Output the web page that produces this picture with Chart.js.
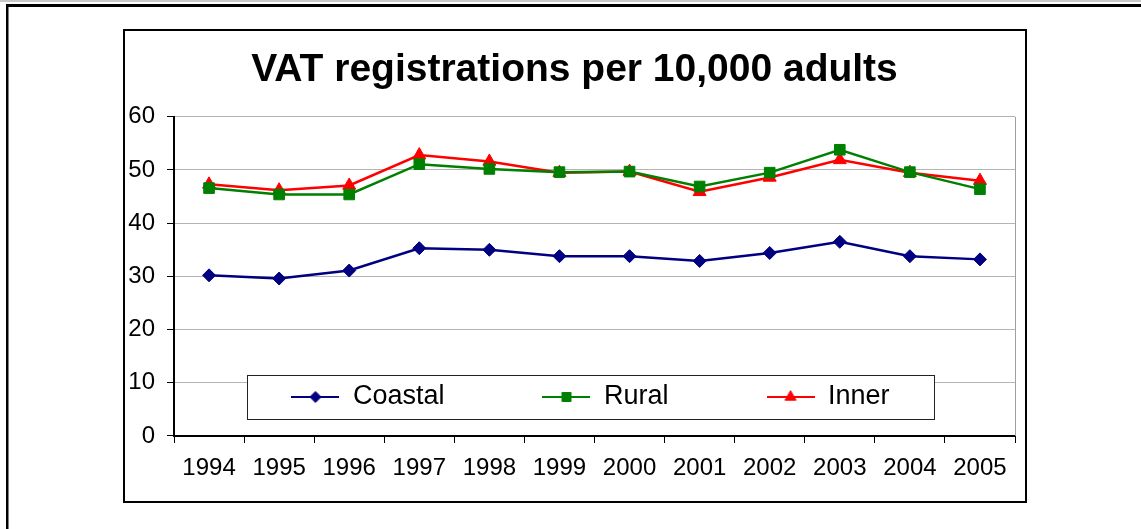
<!DOCTYPE html>
<html>
<head>
<meta charset="utf-8">
<title>VAT registrations per 10,000 adults</title>
<script src="https://cdn.jsdelivr.net/npm/chart.js@4/dist/chart.umd.min.js"></script>
<style>
  html, body { margin: 0; padding: 0; background: #fff; }
  canvas { display: block; }
</style>
</head>
<body>
<canvas id="vatChart" width="1141" height="529"></canvas>
<script>
// Years on the category axis
const years = ['1994', '1995', '1996', '1997', '1998', '1999', '2000', '2001', '2002', '2003', '2004', '2005'];

// VAT registrations per 10,000 adults, by area type
const coastal = [30.2, 29.6, 31.1, 35.3, 35.0, 33.8, 33.8, 32.9, 34.4, 36.5, 33.8, 33.2];
const rural   = [46.6, 45.4, 45.4, 51.1, 50.2, 49.6, 49.7, 46.9, 49.5, 53.8, 49.6, 46.4];
const inner   = [47.3, 46.2, 47.1, 52.8, 51.6, 49.5, 49.7, 45.9, 48.6, 51.9, 49.5, 48.0];

// Value axis ticks
const yTickValues = [0, 10, 20, 30, 40, 50, 60];

const FONT = "'Liberation Sans', Arial, Helvetica, sans-serif";
Chart.defaults.font.family = FONT;
Chart.defaults.color = '#000';

const LEGEND_FONT = 27;
const LEGEND_GAP = 98;

// Small line-plus-marker icon used as the legend symbol
function legendIcon(color, style, radius) {
  const cv = document.createElement('canvas');
  cv.width = 48;
  cv.height = 20;
  const g = cv.getContext('2d');
  g.strokeStyle = color;
  g.lineWidth = 2;
  g.beginPath();
  g.moveTo(0, 10);
  g.lineTo(48, 10);
  g.stroke();
  g.fillStyle = color;
  g.strokeStyle = color;
  g.lineWidth = 1;
  Chart.helpers.drawPoint(g, { pointStyle: style, radius: radius * 0.85, borderWidth: 1, rotation: 0 }, 24, 10);
  return cv;
}

// White legend panel sitting inside the plot area
function drawLegendPanel(chart) {
  const ca = chart.chartArea;
  const { ctx } = chart;
  const x = ca.left + 73, y = ca.bottom - 61, w = ca.right - ca.left - 154, h = 44;
  ctx.save();
  ctx.fillStyle = '#fff';
  ctx.fillRect(x, y, w, h);
  ctx.strokeStyle = '#222';
  ctx.lineWidth = 1;
  ctx.strokeRect(x + 0.5, y + 0.5, w, h);
  ctx.restore();
}

const framePlugin = {
  id: 'frames',
  beforeDraw(chart) {
    const { ctx, width, height } = chart;
    ctx.save();
    ctx.fillStyle = '#fff';
    ctx.fillRect(0, 0, width, height);
    // page strip and outer border
    ctx.fillStyle = '#c8c8c8';
    ctx.fillRect(0, 0, width, 2);
    ctx.fillStyle = '#000';
    ctx.fillRect(6, 4, width - 6, 3);
    ctx.fillRect(6, 4, 2.5, height - 4);
    // chart box
    ctx.strokeStyle = '#000';
    ctx.lineWidth = 2;
    ctx.strokeRect(124, 30, 902, 472);
    ctx.restore();
  },
  afterLayout(chart) {
    const ca = chart.chartArea;
    // centre the title over the chart box
    if (chart.titleBlock) {
      chart.titleBlock.left = 123;
      chart.titleBlock.right = 1026;
    }
    // move the legend into the lower part of the plot area
    const lg = chart.legend;
    if (lg) {
      const panelCx = (ca.left + 73 + ca.right - 81) / 2;
      const panelCy = ca.bottom - 39;
      lg.left = panelCx - 500;
      lg.right = panelCx + 500;
      lg.top = panelCy - LEGEND_FONT / 2 - LEGEND_GAP;
      lg.bottom = ca.bottom;
      lg.width = lg.right - lg.left;
      lg.height = lg.bottom - lg.top;
      if (!lg.__panel) {
        const baseDraw = lg.draw;
        lg.draw = function (area) {
          drawLegendPanel(this.chart);
          baseDraw.call(this, area);
        };
        lg.__panel = true;
      }
    }
  },
  beforeDatasetsDraw(chart) {
    // grey right-hand edge of the plot area
    const ca = chart.chartArea;
    const { ctx } = chart;
    ctx.save();
    ctx.strokeStyle = '#a0a0a0';
    ctx.lineWidth = 1;
    ctx.beginPath();
    ctx.moveTo(Math.round(ca.right) + 0.5, ca.top);
    ctx.lineTo(Math.round(ca.right) + 0.5, ca.bottom);
    ctx.stroke();
    ctx.restore();
  }
};

const seriesStyle = [
  { color: '#000080', style: 'rectRot', radius: 6.5 },
  { color: '#008000', style: 'rect', radius: 7.5 },
  { color: '#ff0000', style: 'triangle', radius: 7.5 }
];

function makeDataset(label, values, s) {
  return {
    label: label,
    data: values,
    borderColor: s.color,
    backgroundColor: s.color,
    borderWidth: 2.5,
    pointStyle: s.style,
    pointRadius: s.radius,
    pointHoverRadius: s.radius,
    pointBorderWidth: 1,
    pointBackgroundColor: s.color,
    pointBorderColor: s.color,
    tension: 0,
    fill: false
  };
}

new Chart(document.getElementById('vatChart'), {
  type: 'line',
  data: {
    labels: years,
    datasets: [
      makeDataset('Coastal', coastal, seriesStyle[0]),
      makeDataset('Rural', rural, seriesStyle[1]),
      makeDataset('Inner', inner, seriesStyle[2])
    ]
  },
  options: {
    responsive: false,
    animation: false,
    events: [],
    layout: { padding: { left: 123, right: 126, top: 29, bottom: 27 } },
    plugins: {
      title: {
        display: true,
        text: 'VAT registrations per 10,000 adults',
        color: '#000',
        font: { size: 39, weight: 'bold', family: FONT },
        padding: { top: 18, bottom: 23 }
      },
      legend: {
        display: true,
        position: 'bottom',
        align: 'center',
        maxHeight: 0.001,
        labels: {
          usePointStyle: true,
          pointStyleWidth: 48,
          padding: LEGEND_GAP,
          color: '#000',
          font: { size: LEGEND_FONT, family: FONT },
          generateLabels(chart) {
            return chart.data.datasets.map((ds, i) => ({
              text: ds.label,
              fillStyle: ds.borderColor,
              strokeStyle: ds.borderColor,
              fontColor: '#000',
              lineWidth: 0,
              hidden: false,
              datasetIndex: i,
              pointStyle: legendIcon(seriesStyle[i].color, seriesStyle[i].style, seriesStyle[i].radius)
            }));
          }
        }
      },
      tooltip: { enabled: false }
    },
    scales: {
      x: {
        type: 'category',
        offset: true,
        grid: {
          offset: true,
          drawOnChartArea: false,
          drawTicks: true,
          tickLength: 7,
          tickColor: '#000',
          lineWidth: 1
        },
        border: { display: true, color: '#000', width: 2 },
        ticks: {
          color: '#000',
          padding: 11,
          maxRotation: 0,
          autoSkip: false,
          font: { size: 24, family: FONT }
        },
        afterFit(scale) { scale.height = 66; }
      },
      y: {
        min: 0,
        max: 60,
        afterBuildTicks(scale) {
          scale.ticks = yTickValues.map(v => ({ value: v }));
        },
        grid: {
          color: '#b4b4b4',
          lineWidth: 1,
          drawTicks: true,
          tickLength: 7,
          tickColor: '#000'
        },
        border: { display: true, color: '#000', width: 2 },
        ticks: {
          color: '#000',
          padding: 12,
          font: { size: 24, family: FONT }
        },
        afterFit(scale) { scale.width = 51; }
      }
    }
  },
  plugins: [framePlugin]
});
</script>
</body>
</html>
